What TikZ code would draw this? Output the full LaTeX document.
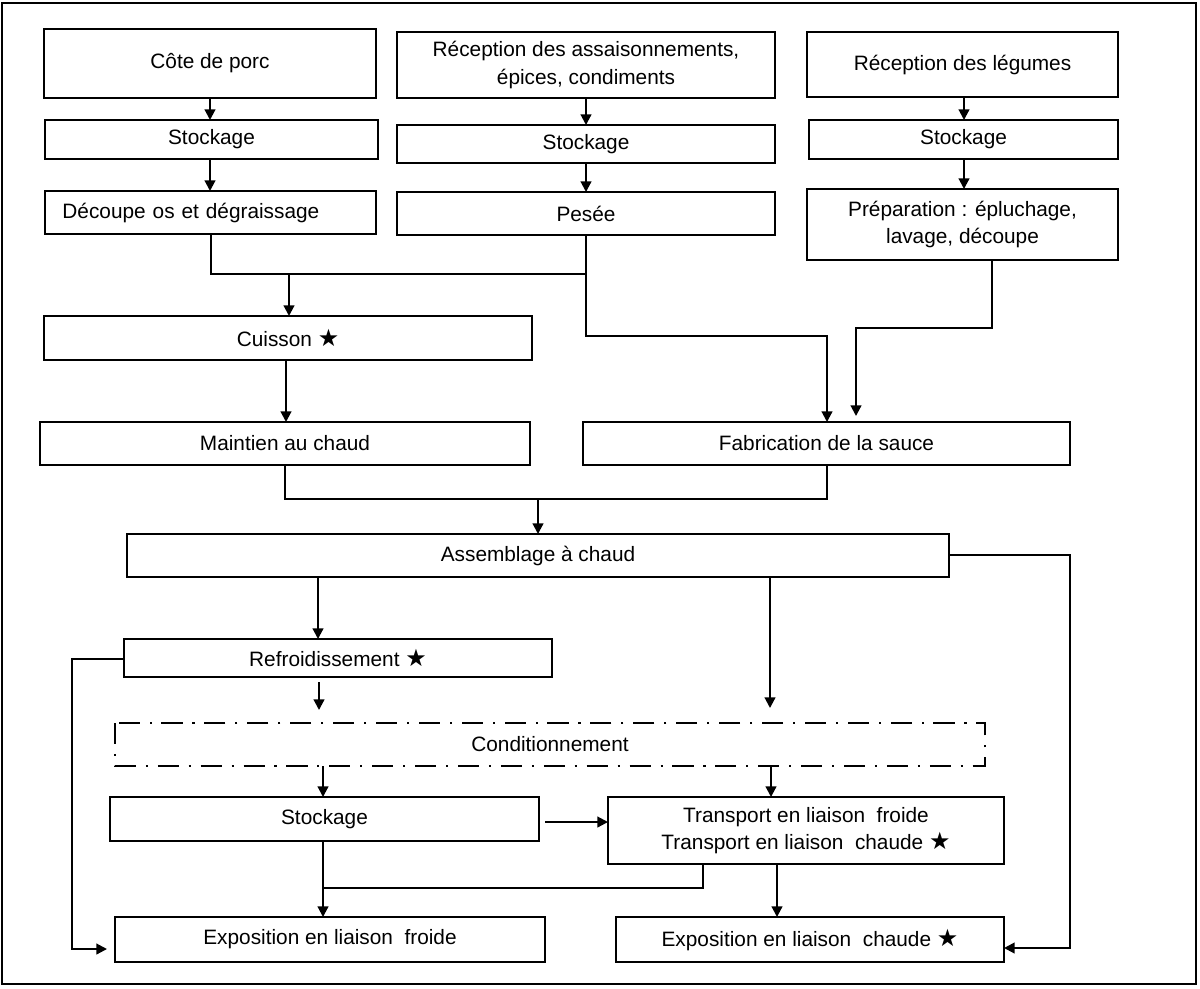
\documentclass[tikz,border=0pt]{standalone}
\usepackage{fontspec}
\setmainfont{Liberation Sans}
\newfontfamily\symf{DejaVu Sans}
\usetikzlibrary{arrows.meta,calc}
\newcommand\st{{\symf\fontsize{17}{17}\selectfont ★}}
\newcommand\bx[7][]{\node[box,#1,minimum width={(#4-#2)*0.025cm},minimum height={(#5-#3)*0.025cm}] (#6) at ({(#2+#4)/2},{(#3+#5)/2}) {#7};}
\tikzset{
  box/.style={draw=black, line width=1.8pt, inner sep=0pt, outer sep=0pt, align=center,
              font=\fontsize{14.8}{19.5}\selectfont},
  ln/.style={line width=1.5pt, line join=miter},
  ar/.style={ln, -{Triangle[length=7.5pt,width=7.5pt]}},
  dashdot/.style={line width=1.8pt, dash pattern=on 15pt off 7pt on 1.5pt off 7pt}
}
\begin{document}
\begin{tikzpicture}[x=0.025cm,y=-0.025cm]
\useasboundingbox (0,0) rectangle (1200,988);
\draw[line width=1.8pt] (2,3) rectangle (1196,984);

% column 1
\bx{44}{29}{376}{98}{cote}{Côte de porc}
\bx{45}{120}{378}{159}{stockA}{Stockage}
\bx[text width=7.4cm, align=left, inner xsep=0.375cm]{45}{191}{376}{234}{decoupe}{Découpe os et dégraissage}
% column 2
\bx{397}{32}{775}{98}{recep}{Réception des assaisonnements,\\ épices, condiments}
\bx{397}{125}{775}{163}{stockB}{Stockage}
\bx{397}{192}{775}{235}{pesee}{Pesée}
% column 3
\bx{807}{32}{1118}{97}{leg}{Réception des légumes}
\bx{809}{120}{1118}{159}{stockC}{Stockage}
\bx{807}{189}{1118}{260}{prep}{Préparation : épluchage,\\ lavage, découpe}

\bx{44}{316}{532}{360}{cuisson}{Cuisson \st}
\bx{40}{422}{530}{465}{maintien}{Maintien au chaud}
\bx{583}{422}{1070}{465}{fab}{Fabrication de la sauce}
\bx{127}{534}{949}{577}{assemb}{Assemblage à chaud}
\bx{124}{639}{552}{677}{refroid}{Refroidissement \st}
\node[box, draw=none, minimum width={870*0.025cm}, minimum height={43*0.025cm}] (cond) at (550,744.5) {Conditionnement};
\draw[dashdot] (115,723) rectangle (985,766);
\bx{110}{797}{539}{841}{stockD}{Stockage}
\bx{608}{797}{1004}{864}{transp}{Transport en liaison \ froide\\ Transport en liaison \ chaude \st}
\bx{115}{917}{545}{962}{expfr}{Exposition en liaison \ froide}
\bx{616}{917}{1004}{962}{expch}{Exposition en liaison \ chaude \st}

% top arrows
\draw[ar] (cote.south -| 210,0) -- (stockA.north -| 210,0);
\draw[ar] (stockA.south -| 210,0) -- (decoupe.north -| 210,0);
\draw[ar] (recep.south -| 586,0) -- (stockB.north -| 586,0);
\draw[ar] (stockB.south -| 586,0) -- (pesee.north -| 586,0);
\draw[ar] (leg.south -| 964,0) -- (stockC.north -| 964,0);
\draw[ar] (stockC.south -| 964,0) -- (prep.north -| 964,0);

% merge to cuisson / sauce
\coordinate (j1) at (586,274);
\coordinate (j2) at (586,336);
\coordinate (j3) at (827,336);
\draw[ln] (decoupe.south -| 211,0) |- (j1);
\draw[ar] (289,274) -- (cuisson.north -| 289,0);
\draw[ar] (pesee.south -| 586,0) -- (j2) -- (j3) -- (fab.north -| 827,0);
\coordinate (p1) at (992,328);
\coordinate (p2) at (856,328);
\coordinate (p3) at (856,416);
\draw[ar] (prep.south -| 992,0) -- (p1) -- (p2) -- (p3);

\draw[ar] (cuisson.south -| 286,0) -- (maintien.north -| 286,0);
\coordinate (m1) at (285,499);
\coordinate (m2) at (827,499);
\draw[ln] (maintien.south -| 285,0) -- (m1) -- (m2) -- (fab.south -| 827,0);
\draw[ar] (538,499) -- (assemb.north -| 538,0);

% below assemblage
\draw[ar] (assemb.south -| 318,0) -- (refroid.north -| 318,0);
\coordinate (c1) at (770,708);
\draw[ar] (assemb.south -| 770,0) -- (c1);
\coordinate (h1) at (1070,555);
\coordinate (h2) at (1070,948);
\draw[ar] (assemb.east |- 0,555) -- (h1) -- (h2) -- (expch.east |- h2);
\coordinate (f1) at (72,659);
\coordinate (f2) at (72,949);
\coordinate (f3) at (107,949);
\draw[ar] (refroid.west |- f1) -- (f1) -- (f2) -- (f3);
\coordinate (r1) at (319,682);
\coordinate (r2) at (319,710);
\draw[ar] (r1) -- (r2);

\draw[ar] (cond.south -| 323,0) -- (stockD.north -| 323,0);
\draw[ar] (cond.south -| 771,0) -- (transp.north -| 771,0);
\coordinate (s1) at (545,822);
\draw[ar] (s1) -- (transp.west |- s1);
\draw[ar] (stockD.south -| 323,0) -- (expfr.north -| 323,0);
\coordinate (t1) at (703,888);
\coordinate (t2) at (323,888);
\draw[ln] (transp.south -| 703,0) -- (t1) -- (t2);
\draw[ar] (transp.south -| 777,0) -- (expch.north -| 777,0);
\end{tikzpicture}
\end{document}
